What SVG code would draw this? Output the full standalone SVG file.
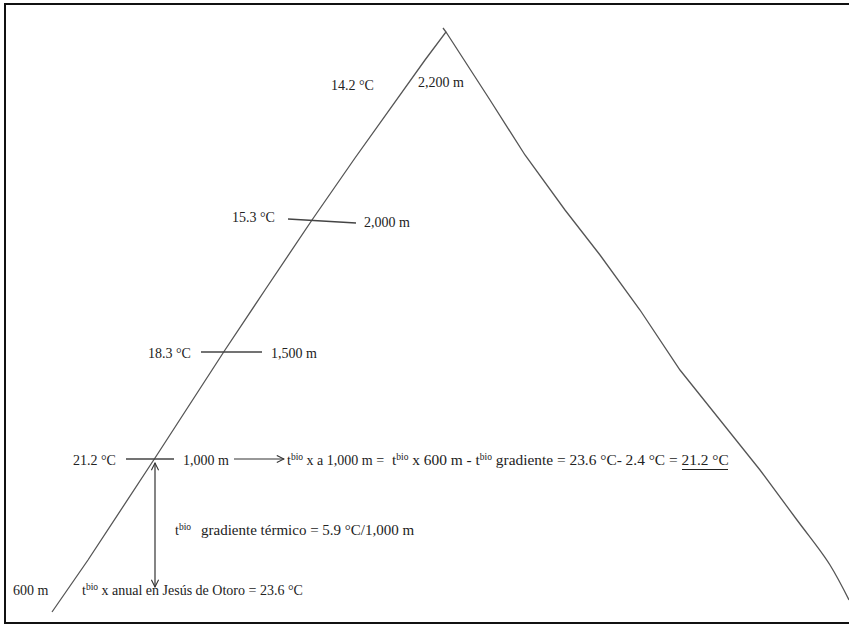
<svg xmlns="http://www.w3.org/2000/svg" width="849" height="627" viewBox="0 0 849 627">
<defs>
<style>
text{font-family:"Liberation Serif","Times New Roman",serif;fill:#222;font-size:14px}
.big{font-size:15.4px}
.mid{font-size:15px}
.sup{font-size:9.5px}
.slope{fill:none;stroke:#555;stroke-width:1.3}
.tick{stroke:#444;stroke-width:1.3}
.arr{stroke:#333;stroke-width:1.2;fill:none}
</style>
<marker id="ah" viewBox="0 0 10 10" refX="9" refY="5" markerWidth="9" markerHeight="9" orient="auto-start-reverse" markerUnits="userSpaceOnUse">
<path d="M1,1 L9,5 L1,9" fill="none" stroke="#333" stroke-width="1.2"/>
</marker>
</defs>
<rect x="0" y="0" width="849" height="627" fill="#fff"/>
<rect x="5" y="4" width="870" height="619" fill="none" stroke="#111" stroke-width="2"/>
<g id="mountain">
<path class="slope" d="M52,612 L88,560 L155,458 L225,350 L265,290 L312,220 L355,158 L425,60 L446,32 L443,28"/>
<path class="slope" d="M446,32 L490,100 L525,155 L565,210 L600,255 L640,310 L680,370 L720,420 L760,470 L797,520 C812,540 822,552 830,565 C838,578 844,590 849,600"/>
</g>
<g id="connectors">
<line class="tick" x1="288" y1="219" x2="356" y2="223"/>
<line class="tick" x1="201" y1="352" x2="262" y2="352"/>
<line class="tick" x1="126" y1="459" x2="174" y2="459"/>
<line class="arr" x1="234" y1="459" x2="284" y2="459" marker-end="url(#ah)"/>
<line class="arr" x1="155" y1="463" x2="155" y2="587" marker-start="url(#ah)" marker-end="url(#ah)"/>
<line x1="682" y1="469.5" x2="728" y2="469.5" stroke="#222" stroke-width="1"/>
</g>
<g id="l2200"><text x="331" y="90">14.2 °C</text><text x="418" y="87">2,200 m</text></g>
<g id="l2000"><text x="232" y="222">15.3 °C</text><text x="364" y="227">2,000 m</text></g>
<g id="l1500"><text x="148" y="358">18.3 °C</text><text x="271" y="358">1,500 m</text></g>
<g id="l1000">
<text x="73" y="465">21.2 °C</text>
<text x="183" y="465">1,000 m</text>
<text x="287" y="465">t<tspan class="sup" dy="-5">bio</tspan><tspan dy="5"> x a 1,000 m =</tspan></text>
<text class="big" x="392" y="465">t<tspan class="sup" dy="-5">bio</tspan><tspan dy="5"> x 600 m - t</tspan><tspan class="sup" dy="-5">bio</tspan><tspan dy="5"> gradiente = 23.6 °C- 2.4 °C = 21.2 °C</tspan></text>
</g>
<g id="gradient"><text x="175" y="535">t<tspan class="sup" dy="-5">bio</tspan><tspan class="mid" dy="5" dx="10">gradiente térmico = 5.9 °C/1,000 m</tspan></text></g>
<g id="l600">
<text x="13" y="595">600 m</text>
<text x="82" y="595">t<tspan class="sup" dy="-5">bio</tspan><tspan dy="5"> x anual en Jesús de Otoro = 23.6 °C</tspan></text>
</g>
</svg>
